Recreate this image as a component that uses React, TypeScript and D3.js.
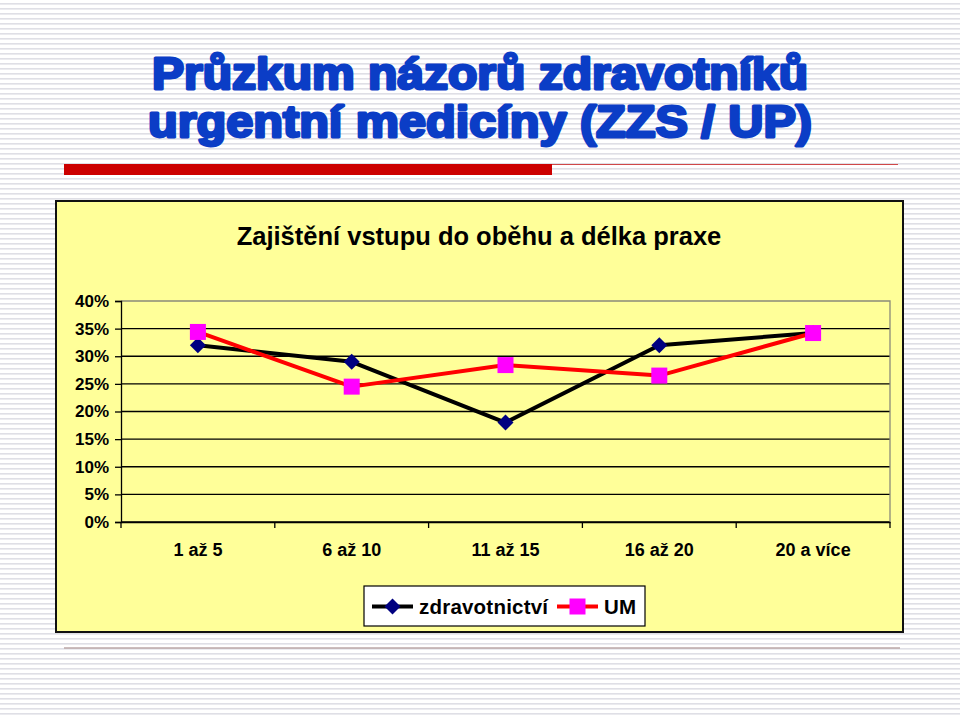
import { useEffect, useRef } from 'react';
import * as d3 from 'd3';

// ── Data ──────────────────────────────────────────────────────────────
const CATEGORIES = ['1 až 5', '6 až 10', '11 až 15', '16 až 20', '20 a více'];
const ZDRAVOTNICTVI = [0.32, 0.29, 0.18, 0.32, 0.342];
const UM = [0.344, 0.245, 0.284, 0.265, 0.342];
const Y_TICKS = [0, 0.05, 0.1, 0.15, 0.2, 0.25, 0.3, 0.35, 0.4];
const SERIES_NAMES = ['zdravotnictví', 'UM'];

const TITLE_LINES = ['Průzkum názorů zdravotníků', 'urgentní medicíny (ZZS / UP)'];
const CHART_TITLE = 'Zajištění vstupu do oběhu a délka praxe';

const W = 960;
const H = 717;
const PLOT = { left: 121, right: 890, top: 301, bottom: 522 };
const FONT = '"Liberation Sans", Arial, sans-serif';

export default function App() {
  const svgRef = useRef<SVGSVGElement>(null);

  useEffect(() => {
    if (!svgRef.current) return;
    const svg = d3.select(svgRef.current);
    svg.selectAll('*').remove();

    // ── Striped slide background ─────────────────────────────────────
    const defs = svg.append('defs');
    const pat = defs
      .append('pattern')
      .attr('id', 'stripes')
      .attr('width', 8)
      .attr('height', 5)
      .attr('patternUnits', 'userSpaceOnUse');
    pat.append('rect').attr('width', 8).attr('height', 5).attr('fill', '#ffffff');
    pat.append('rect').attr('y', 3).attr('width', 8).attr('height', 1.6).attr('fill', '#dfdfe6');

    svg.append('rect').attr('width', W).attr('height', H).attr('fill', 'url(#stripes)');

    // ── Slide title ──────────────────────────────────────────────────
    const titleBaselines = [89, 137];
    const titleX = [152, 148];
    const titleLen = [656, 664];
    TITLE_LINES.forEach((t, i) => {
      svg
        .append('text')
        .attr('x', titleX[i])
        .attr('y', titleBaselines[i])
        .attr('font-family', FONT)
        .attr('font-weight', 'bold')
        .attr('font-size', 44)
        .attr('fill', '#0b3dc6')
        .attr('stroke', '#0b3dc6')
        .attr('stroke-width', 2.8)
        .attr('stroke-linejoin', 'round')
        .attr('textLength', titleLen[i])
        .attr('lengthAdjust', 'spacingAndGlyphs')
        .text(t);
    });

    // red underline bar + thin rule
    svg.append('rect').attr('x', 64).attr('y', 164).attr('width', 488).attr('height', 11).attr('fill', '#cc0000');
    svg
      .append('line')
      .attr('x1', 552).attr('x2', 898)
      .attr('y1', 164.5).attr('y2', 164.5)
      .attr('stroke', '#d04848').attr('stroke-width', 1);

    // bottom rule
    svg
      .append('line')
      .attr('x1', 64).attr('x2', 900)
      .attr('y1', 648).attr('y2', 648)
      .attr('stroke', '#bba7a7').attr('stroke-width', 1.5);

    // ── Chart box ────────────────────────────────────────────────────
    svg
      .append('rect')
      .attr('x', 56).attr('y', 201)
      .attr('width', 847).attr('height', 431)
      .attr('fill', '#ffff99')
      .attr('stroke', '#111')
      .attr('stroke-width', 2);

    svg
      .append('text')
      .attr('x', 479)
      .attr('y', 245)
      .attr('text-anchor', 'middle')
      .attr('font-family', FONT)
      .attr('font-weight', 'bold')
      .attr('font-size', 25.5)
      .attr('fill', '#000')
      .text(CHART_TITLE);

    // ── Scales ───────────────────────────────────────────────────────
    const x = d3.scaleBand<string>().domain(CATEGORIES).range([PLOT.left, PLOT.right]);
    const y = d3.scaleLinear().domain([0, 0.4]).range([PLOT.bottom, PLOT.top]);
    const cx = (c: string) => x(c)! + x.bandwidth() / 2;

    // gridlines
    const g = svg.append('g');
    g.selectAll('line.grid')
      .data(Y_TICKS.slice(0, -1))
      .join('line')
      .attr('class', 'grid')
      .attr('x1', PLOT.left).attr('x2', PLOT.right)
      .attr('y1', d => y(d)).attr('y2', d => y(d))
      .attr('stroke', '#000').attr('stroke-width', 1.3);

    // plot border (top / right) in gray
    g.append('path')
      .attr('d', `M${PLOT.left},${PLOT.top}H${PLOT.right}V${PLOT.bottom}`)
      .attr('fill', 'none')
      .attr('stroke', '#8a8a7a')
      .attr('stroke-width', 1.3);

    // y axis
    const yAxis = svg
      .append('g')
      .attr('transform', `translate(${PLOT.left},0)`)
      .call(
        d3.axisLeft(y)
          .tickValues(Y_TICKS)
          .tickSize(6)
          .tickPadding(6)
          .tickFormat(d => `${Math.round((d as number) * 100)}%`),
      );
    yAxis.select('.domain').attr('stroke', '#000').attr('stroke-width', 1.3);
    yAxis.selectAll('.tick line').attr('stroke', '#000').attr('stroke-width', 1.3);
    yAxis
      .selectAll('.tick text')
      .attr('font-family', FONT)
      .attr('font-weight', 'bold')
      .attr('font-size', 17)
      .attr('fill', '#000');

    // x axis
    const xAxis = svg
      .append('g')
      .attr('transform', `translate(0,${PLOT.bottom})`)
      .call(d3.axisBottom(x).tickSize(0).tickPadding(21));
    xAxis.select('.domain').attr('stroke', '#000').attr('stroke-width', 1.3);
    xAxis
      .selectAll('.tick text')
      .attr('font-family', FONT)
      .attr('font-weight', 'bold')
      .attr('font-size', 18)
      .attr('fill', '#000');
    // category boundary ticks
    const bounds = CATEGORIES.map(c => x(c)!).concat(PLOT.right);
    svg
      .append('g')
      .selectAll('line')
      .data(bounds)
      .join('line')
      .attr('x1', d => d).attr('x2', d => d)
      .attr('y1', PLOT.bottom).attr('y2', PLOT.bottom + 6)
      .attr('stroke', '#000').attr('stroke-width', 1.3);

    // ── Series ───────────────────────────────────────────────────────
    const line = d3
      .line<number>()
      .x((_, i) => cx(CATEGORIES[i]))
      .y(d => y(d));

    const diamond = (s: number) => `M0,${-s}L${s},0L0,${s}L${-s},0Z`;

    const s1 = svg.append('g');
    s1.append('path')
      .attr('d', line(ZDRAVOTNICTVI)!)
      .attr('fill', 'none')
      .attr('stroke', '#000')
      .attr('stroke-width', 4)
      .attr('stroke-linejoin', 'round');
    s1.selectAll('path.m')
      .data(ZDRAVOTNICTVI)
      .join('path')
      .attr('class', 'm')
      .attr('transform', (d, i) => `translate(${cx(CATEGORIES[i])},${y(d)})`)
      .attr('d', diamond(8))
      .attr('fill', '#000080');

    const s2 = svg.append('g');
    s2.append('path')
      .attr('d', line(UM)!)
      .attr('fill', 'none')
      .attr('stroke', '#ff0000')
      .attr('stroke-width', 4)
      .attr('stroke-linejoin', 'round');
    s2.selectAll('rect')
      .data(UM)
      .join('rect')
      .attr('x', (d, i) => cx(CATEGORIES[i]) - 8)
      .attr('y', d => y(d) - 8)
      .attr('width', 16)
      .attr('height', 16)
      .attr('fill', '#ff00ff');

    // ── Legend ───────────────────────────────────────────────────────
    const lg = svg.append('g');
    lg.append('rect')
      .attr('x', 364).attr('y', 586)
      .attr('width', 281).attr('height', 40)
      .attr('fill', '#fff')
      .attr('stroke', '#000')
      .attr('stroke-width', 1.2);

    const ly = 606.5;
    const entries = [
      { x0: 372, tx: 419, stroke: '#000', marker: 'diamond', fill: '#000080', len: 129 },
      { x0: 557, tx: 604, stroke: '#ff0000', marker: 'square', fill: '#ff00ff', len: 32 },
    ];
    entries.forEach((e, i) => {
      lg.append('line')
        .attr('x1', e.x0).attr('x2', e.x0 + 41)
        .attr('y1', ly).attr('y2', ly)
        .attr('stroke', e.stroke).attr('stroke-width', 4);
      if (e.marker === 'diamond') {
        lg.append('path')
          .attr('transform', `translate(${e.x0 + 20.5},${ly})`)
          .attr('d', diamond(8))
          .attr('fill', e.fill);
      } else {
        lg.append('rect')
          .attr('x', e.x0 + 12.5).attr('y', ly - 8)
          .attr('width', 16).attr('height', 16)
          .attr('fill', e.fill);
      }
      lg.append('text')
        .attr('x', e.tx)
        .attr('y', ly + 7.5)
        .attr('font-family', FONT)
        .attr('font-weight', 'bold')
        .attr('font-size', 20.5)
        .attr('fill', '#000')
        .attr('textLength', e.len)
        .attr('lengthAdjust', 'spacing')
        .text(SERIES_NAMES[i]);
    });
  }, []);

  return (
    <svg
      ref={svgRef}
      width={W}
      height={H}
      style={{ position: 'absolute', left: 0, top: 0, display: 'block' }}
    />
  );
}
